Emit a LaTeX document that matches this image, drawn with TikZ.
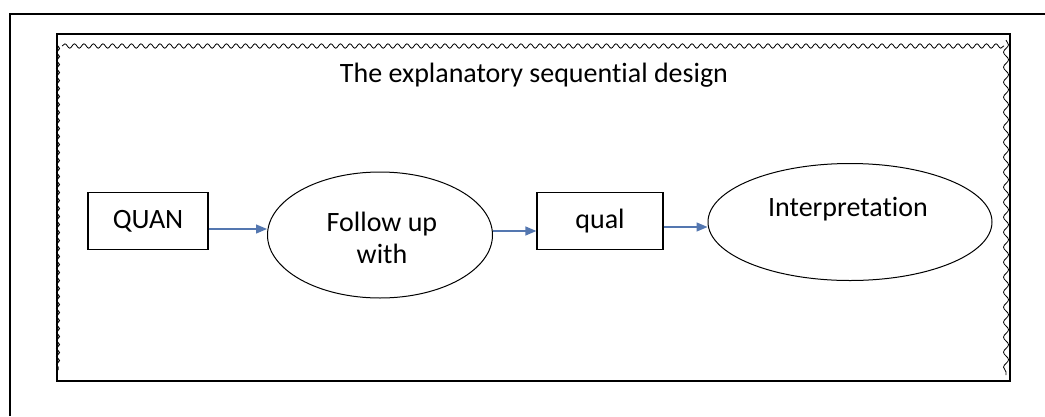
\documentclass[tikz,border=0pt]{standalone}
\usepackage{fontspec}
\setmainfont{Carlito}[Ligatures={NoCommon}]
\usetikzlibrary{arrows.meta,shapes.geometric,decorations.pathmorphing}
\definecolor{arrowblue}{HTML}{5477B0}
\tikzset{
  boxnode/.style={draw, line width=1.3pt, minimum width=120pt, minimum height=57pt, inner sep=0pt},
  ovalnode/.style={draw, ellipse, line width=1pt, inner sep=0pt},
  flow/.style={draw=arrowblue, line width=1.3pt, -{Triangle[length=11pt,width=9pt]}},
  txt/.style={font=\fontsize{28}{32}\selectfont}
}
\begin{document}
\begin{tikzpicture}[x=1pt,y=-1pt]
\useasboundingbox (0,0) rectangle (1045,416);
% outer frame
\draw[line width=1.3pt] (10,416) -- (10,14) -- (1045,14);
% inner frame
\draw[line width=1.3pt] (57,34) -- (1010,34) -- (1010,381) -- (57,381) -- cycle;
\draw[line width=0.8pt, decorate, decoration={snake, amplitude=2.2pt, segment length=9.5pt}] (62,46) -- (1004,46);
\draw[line width=1pt, decorate, decoration={snake, amplitude=1.5pt, segment length=8pt}] (58,46) -- (58,370);
\draw[line width=0.8pt, decorate, decoration={snake, amplitude=2.5pt, segment length=15pt}] (1006,40) -- (1006,375);
% title
\node[txt] (title) at (534,75) {The explanatory sequential design};
% nodes
\node[boxnode, txt] (quan) at (148,221) {QUAN};
\node[ovalnode, minimum width=225pt, minimum height=126pt] (follow) at (380,235) {};
\node[txt, align=center] (followtxt) at (382,238) {Follow up\\[0pt]with};
\node[boxnode, txt, minimum width=126pt] (qual) at (600,221) {qual};
\node[ovalnode, minimum width=284pt, minimum height=117pt] (interp) at (850,222) {};
\node[txt] (interptxt) at (848,209) {Interpretation};
% connectors
\draw[flow] (quan.east |- 0,229) -- (follow.west |- 0,229);
\draw[flow] (follow.east |- 0,231) -- (qual.west |- 0,231);
\draw[flow] (qual.east |- 0,227) -- (interp.west |- 0,227);
\end{tikzpicture}
\end{document}
